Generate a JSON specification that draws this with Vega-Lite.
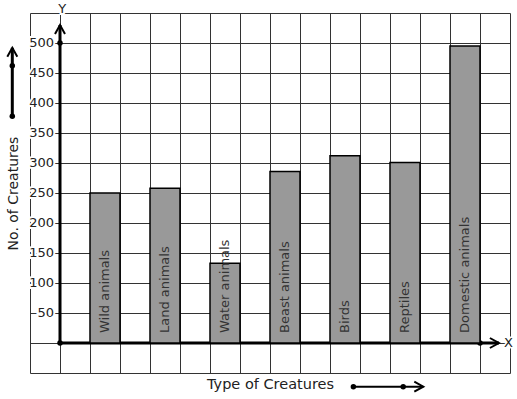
{
  "$schema": "https://vega.github.io/schema/vega-lite/v6.json",
  "width": 480,
  "height": 360,
  "autosize": {"type": "none"},
  "padding": {"left": 30, "top": 13, "right": 7, "bottom": 26},
  "background": "white",
  "config": {
    "view": {"stroke": null},
    "font": "DejaVu Sans",
    "axis": {"gridColor": "#333333", "gridWidth": 1, "gridOpacity": 1}
  },
  "datasets": {
    "creatures": [
      {"creature": "Wild animals", "count": 250},
      {"creature": "Land animals", "count": 258},
      {"creature": "Water animals", "count": 133},
      {"creature": "Beast animals", "count": 286},
      {"creature": "Birds", "count": 312},
      {"creature": "Reptiles", "count": 301},
      {"creature": "Domestic animals", "count": 495}
    ],
    "ylabels": [
      {"v": 50}, {"v": 100}, {"v": 150}, {"v": 200}, {"v": 250},
      {"v": 300}, {"v": 350}, {"v": 400}, {"v": 450}, {"v": 500}
    ],
    "dots": [
      {"x": 0, "y": 0}, {"x": 0, "y": 500}, {"x": 14, "y": 0},
      {"x": -1.59, "y": 378}, {"x": -1.59, "y": 462},
      {"x": 9.78, "y": -72.8}, {"x": 11.44, "y": -72.8}
    ],
    "heads": [
      {"x": 0, "y": 530, "dir": "up"}, {"x": -1.59, "y": 492, "dir": "up"},
      {"x": 14.63, "y": 0, "dir": "right"}, {"x": 12.11, "y": -72.8, "dir": "right"}
    ],
    "one": [{}]
  },
  "resolve": {"scale": {"x": "independent"}, "axis": {"x": "independent", "y": "independent"}},
  "layer": [
    {
      "resolve": {"axis": {"x": "independent", "y": "independent"}},
      "layer": [
        {
          "data": {"name": "one"},
          "mark": {"type": "rule", "stroke": "black", "strokeWidth": 3},
          "encoding": {
            "x": {
              "datum": 0, "type": "quantitative",
              "scale": {"domain": [-1, 15], "nice": false, "zero": false},
              "axis": {
                "values": [-1, 0, 1, 2, 3, 4, 5, 6, 7, 8, 9, 10, 11, 12, 13, 14, 15],
                "grid": true, "labels": false, "ticks": false, "domain": false,
                "title": "Type of Creatures", "titleFontSize": 14.5, "titleFontWeight": "normal",
                "titleColor": "#222222", "titlePadding": 4
              }
            },
            "y": {
              "datum": 0, "type": "quantitative",
              "scale": {"domain": [-50, 550], "nice": false, "zero": false},
              "axis": {
                "values": [-50, 0, 50, 100, 150, 200, 250, 300, 350, 400, 450, 500, 550],
                "grid": true, "labels": false, "ticks": false, "domain": false,
                "title": "No. of Creatures", "titleFontSize": 14, "titleFontWeight": "normal",
                "titleColor": "#222222", "titlePadding": 10
              }
            },
            "y2": {"datum": 530}
          }
        },
        {
          "data": {"name": "one"},
          "mark": {"type": "rule", "stroke": "black", "strokeWidth": 3},
          "encoding": {
            "x": {"datum": 0, "type": "quantitative", "axis": null},
            "x2": {"datum": 14.63},
            "y": {"datum": 0, "type": "quantitative", "axis": null}
          }
        },
        {
          "data": {"name": "one"},
          "mark": {"type": "rule", "stroke": "black", "strokeWidth": 3},
          "encoding": {
            "x": {"datum": -1.59, "type": "quantitative", "axis": null},
            "y": {"datum": 378, "type": "quantitative", "axis": null},
            "y2": {"datum": 492}
          }
        },
        {
          "data": {"name": "one"},
          "mark": {"type": "rule", "stroke": "black", "strokeWidth": 2},
          "encoding": {
            "x": {"datum": 9.78, "type": "quantitative", "axis": null},
            "x2": {"datum": 12.11},
            "y": {"datum": -72.8, "type": "quantitative", "axis": null}
          }
        },
        {
          "data": {"name": "dots"},
          "mark": {"type": "point", "filled": true, "fill": "black", "opacity": 1, "size": 30, "shape": "circle"},
          "encoding": {
            "x": {"field": "x", "type": "quantitative", "axis": null},
            "y": {"field": "y", "type": "quantitative", "axis": null}
          }
        },
        {
          "data": {"name": "heads"},
          "mark": {"type": "point", "filled": false, "stroke": "black", "strokeWidth": 2, "opacity": 1, "size": 100},
          "encoding": {
            "x": {"field": "x", "type": "quantitative", "axis": null},
            "y": {"field": "y", "type": "quantitative", "axis": null},
            "shape": {
              "field": "dir", "type": "nominal", "legend": null,
              "scale": {"domain": ["up", "right"], "range": ["M-1,1.8L0,0L1,1.8", "M-1.8,-1L0,0L-1.8,1"]}
            }
          }
        },
        {
          "data": {"name": "ylabels"},
          "mark": {"type": "text", "align": "right", "baseline": "middle", "fontSize": 13, "stroke": "white", "strokeWidth": 4, "fill": "white"},
          "encoding": {
            "x": {"datum": -0.2, "type": "quantitative", "axis": null},
            "y": {"field": "v", "type": "quantitative", "axis": null},
            "text": {"field": "v"}
          }
        },
        {
          "data": {"name": "ylabels"},
          "mark": {"type": "text", "align": "right", "baseline": "middle", "fontSize": 13, "fill": "#222222"},
          "encoding": {
            "x": {"datum": -0.2, "type": "quantitative", "axis": null},
            "y": {"field": "v", "type": "quantitative", "axis": null},
            "text": {"field": "v"}
          }
        },
        {
          "data": {"name": "one"},
          "mark": {"type": "text", "align": "center", "baseline": "middle", "fontSize": 13, "stroke": "white", "strokeWidth": 4, "fill": "white", "text": "Y"},
          "encoding": {
            "x": {"datum": 0.07, "type": "quantitative", "axis": null},
            "y": {"datum": 556, "type": "quantitative", "axis": null}
          }
        },
        {
          "data": {"name": "one"},
          "mark": {"type": "text", "align": "center", "baseline": "middle", "fontSize": 13, "fill": "#222222", "text": "Y"},
          "encoding": {
            "x": {"datum": 0.07, "type": "quantitative", "axis": null},
            "y": {"datum": 556, "type": "quantitative", "axis": null}
          }
        },
        {
          "data": {"name": "one"},
          "mark": {"type": "text", "align": "center", "baseline": "middle", "fontSize": 13, "stroke": "white", "strokeWidth": 3, "fill": "white", "text": "X"},
          "encoding": {
            "x": {"datum": 14.95, "type": "quantitative", "axis": null},
            "y": {"datum": 0, "type": "quantitative", "axis": null}
          }
        },
        {
          "data": {"name": "one"},
          "mark": {"type": "text", "align": "center", "baseline": "middle", "fontSize": 13, "fill": "#222222", "text": "X"},
          "encoding": {
            "x": {"datum": 14.95, "type": "quantitative", "axis": null},
            "y": {"datum": 0, "type": "quantitative", "axis": null}
          }
        }
      ]
    },
    {
      "data": {"name": "creatures"},
      "mark": {"type": "bar", "fill": "#999999", "stroke": "black", "strokeWidth": 1.5},
      "encoding": {
        "x": {
          "field": "creature", "type": "nominal", "sort": null, "axis": null,
          "scale": {"type": "band", "paddingInner": 0.5, "paddingOuter": 0.75, "align": 0.6667}
        },
        "y": {"field": "count", "type": "quantitative", "axis": null}
      }
    },
    {
      "data": {"name": "creatures"},
      "mark": {"type": "text", "angle": 270, "align": "left", "baseline": "middle", "dx": 10, "fontSize": 13, "fill": "#333333"},
      "encoding": {
        "x": {
          "field": "creature", "type": "nominal", "sort": null, "axis": null,
          "scale": {"type": "band", "paddingInner": 0.5, "paddingOuter": 0.75, "align": 0.6667}
        },
        "y": {"datum": 0, "type": "quantitative", "axis": null},
        "text": {"field": "creature"}
      }
    }
  ]
}
